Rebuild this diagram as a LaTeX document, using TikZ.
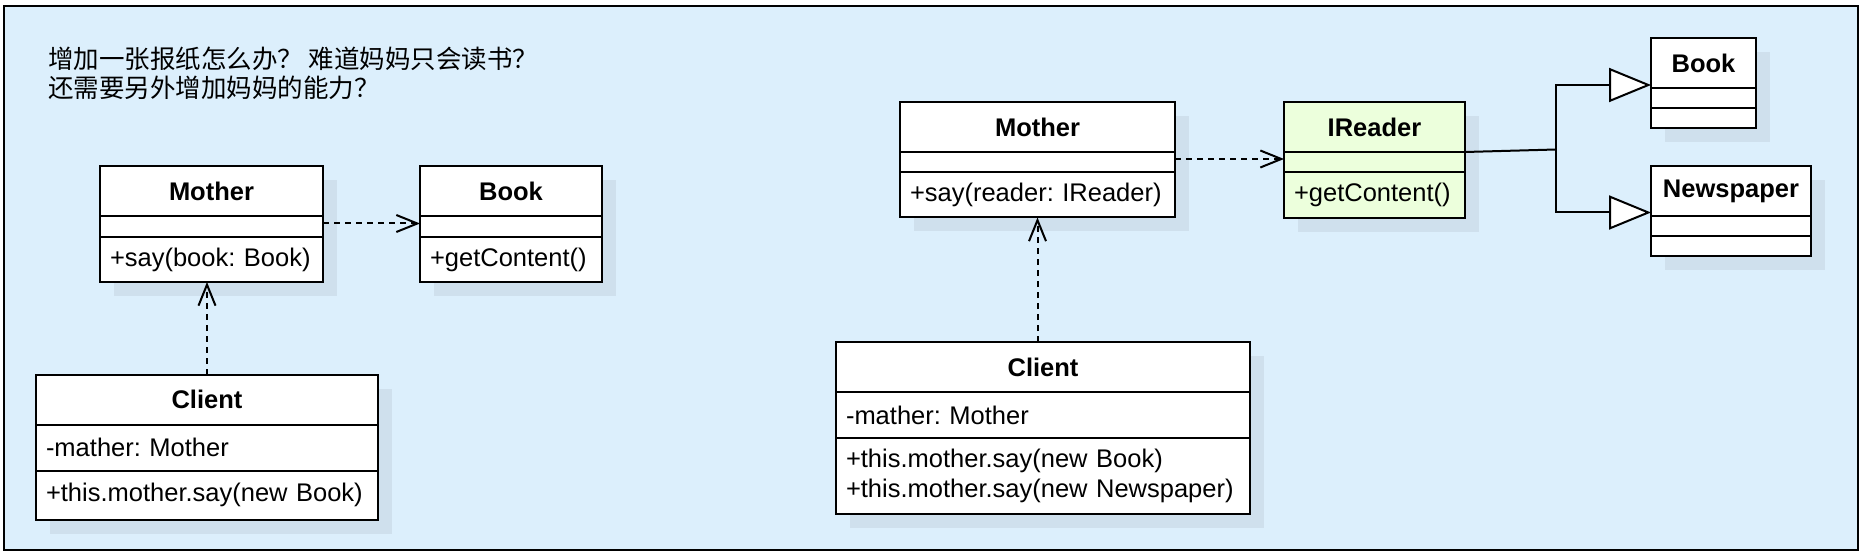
\documentclass[tikz,border=0pt]{standalone}
\usepackage{fontspec}
\setmainfont{Liberation Sans}
\newfontfamily\cjk{Noto Sans CJK SC}
\usepackage{xcolor}
\usepackage{tikz}
\usetikzlibrary{arrows.meta, positioning, shadows}

\definecolor{bgblue}{RGB}{220,239,252}
\definecolor{shade}{RGB}{207,224,237}
\definecolor{ifgreen}{RGB}{236,255,220}
\frenchspacing

\begin{document}
\begin{tikzpicture}[
    x=1pt, y=-1pt,
    font=\fontsize{25.5}{30}\selectfont,
    cls/.style={draw, line width=2pt, fill=white, inner xsep=10pt, inner ysep=0pt,
                outer sep=0pt, drop shadow={shadow xshift=14pt, shadow yshift=-14pt,
                fill=shade, opacity=1}},
    ttl/.style={cls, align=center, minimum height=50pt,
                font=\fontsize{25.5}{30}\selectfont\bfseries},
    sec/.style={cls, align=left, minimum height=#1},
    dep/.style={-{Straight Barb[length=21pt, width=17pt, line width=2pt]},
                line width=2pt, dash pattern=on 6pt off 5pt},
    gen/.style={-{Triangle[length=42pt, width=34pt, fill=white, line width=2pt]},
                line width=2pt}
]
\useasboundingbox (0,0) rectangle (1864,556);
\fill[bgblue, draw=black, line width=2pt] (4,6) rectangle (1858,550);

\node[anchor=north west, inner sep=0pt, align=left,
      font=\cjk\fontsize{25.5}{28.5}\selectfont] (note) at (48,47)
    {增加一张报纸怎么办？ 难道妈妈只会读书？\\还需要另外增加妈妈的能力？};

% before: Mother depends on Book
\node[ttl, text width=203pt, anchor=north west] (mom) at (100,166) {Mother};
\node[sec=21pt, text width=203pt, below=0pt of mom] (momattr) {};
\node[sec=45pt, text width=203pt, below=0pt of momattr] (mommeth) {+say(book: Book)};

\node[ttl, text width=162pt, right=97pt of mom] (book) {Book};
\node[sec=21pt, text width=162pt, below=0pt of book] (bookattr) {};
\node[sec=45pt, text width=162pt, below=0pt of bookattr] (bookmeth) {+getContent()};

\node[ttl, text width=322pt, anchor=north west] (client) at (36,374.5) {Client};
\node[sec=46pt, text width=322pt, below=0pt of client] (clientattr) {-mather: Mother};
\node[sec=49pt, text width=322pt, below=0pt of clientattr] (clientmeth)
    {+this.mother.say(new Book)};

\draw[dep] ([yshift=3pt]momattr.east) -- ([yshift=3pt]bookattr.west);
\draw[dep] (client.north) -- (client.north |- mommeth.south);

% after: Mother depends on IReader
\node[ttl, text width=255pt, anchor=north west] (mom2) at (900,102) {Mother};
\node[sec=20pt, text width=255pt, below=0pt of mom2] (mom2attr) {};
\node[sec=45.5pt, text width=255pt, below=0pt of mom2attr] (mom2meth)
    {+say(reader: IReader)};

\node[ttl, fill=ifgreen, text width=161pt, right=109pt of mom2] (reader) {IReader};
\node[sec=20pt, fill=ifgreen, text width=161pt, below=0pt of reader] (readerattr) {};
\node[sec=46pt, fill=ifgreen, text width=161pt, below=0pt of readerattr] (readermeth)
    {+getContent()};

\node[ttl, text width=394pt, anchor=north west] (client2) at (836,342) {Client};
\node[sec=46pt, text width=394pt, below=0pt of client2] (client2attr) {-mather: Mother};
\node[sec=76pt, text width=394pt, below=0pt of client2attr] (client2meth)
    {+this.mother.say(new Book)\\+this.mother.say(new Newspaper)};

\node[ttl, text width=85pt, anchor=north west] (book2) at (1651,38) {Book};
\node[sec=20pt, text width=85pt, below=0pt of book2] (book2attr) {};
\node[sec=20pt, text width=85pt, below=0pt of book2attr] (book2meth) {};

\node[ttl, text width=140pt, anchor=north west] (paper) at (1651,166) {Newspaper};
\node[sec=20pt, text width=140pt, below=0pt of paper] (paperattr) {};
\node[sec=20pt, text width=140pt, below=0pt of paperattr] (papermeth) {};

\draw[dep] ([yshift=3pt]mom2attr.east) -- ([yshift=3pt]readerattr.west);
\draw[dep] (client2.north -| mom2meth.south) -- (mom2meth.south);

\coordinate (split) at (1556,149.5);
\draw[line width=2pt] (reader.south east) -- (split);
\draw[gen] (split) |- ([yshift=3pt]book2.south west);
\draw[gen] (split) |- ([yshift=3.5pt]paper.south west);
\end{tikzpicture}
\end{document}
